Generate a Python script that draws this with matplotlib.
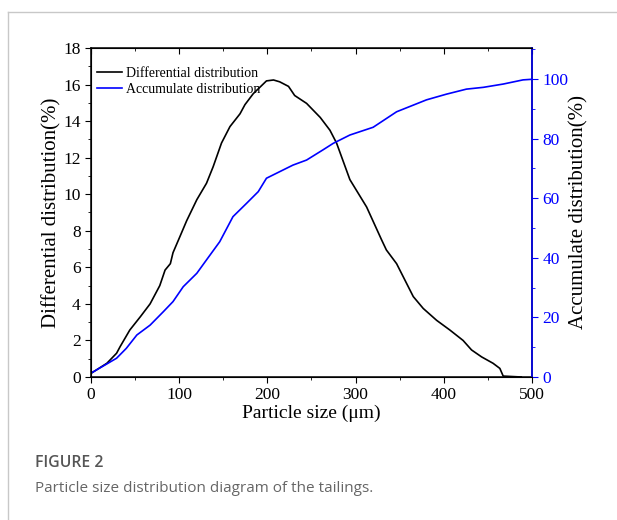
import matplotlib
matplotlib.use("Agg")
import matplotlib.pyplot as plt
from matplotlib.lines import Line2D
from matplotlib.ticker import MultipleLocator

# differential distribution (%)
diff_x = [0, 18, 29, 33, 44, 56, 67, 78, 84, 90, 93, 101, 108.5, 120, 131, 138.5,
          148, 157.6, 169, 174.6, 184, 199, 207, 214, 224, 231, 244.5, 260, 271,
          278.5, 293.6, 312.6, 329.6, 335, 346.6, 365.5, 376.8, 392, 407, 422,
          431.6, 443, 456, 463.7, 467.5, 488]
diff_y = [0.2, 0.75, 1.3, 1.66, 2.57, 3.3, 4.0, 5.0, 5.85, 6.2, 6.8, 7.7, 8.55, 9.7,
          10.6, 11.5, 12.8, 13.7, 14.4, 14.9, 15.5, 16.2, 16.25, 16.15, 15.9, 15.4,
          14.97, 14.2, 13.5, 12.8, 10.8, 9.3, 7.5, 6.95, 6.2, 4.4, 3.75, 3.1, 2.57,
          2.0, 1.48, 1.1, 0.75, 0.47, 0.05, 0.0]

# accumulate distribution (%)
acc_x = [0, 18, 29, 40, 52, 67, 82, 93, 104.6, 120, 131, 146, 161, 176.5, 189.7,
         199, 214, 229, 244.5, 263, 274.7, 293.6, 320, 346.6, 380.5, 403, 425.8,
         445, 467.5, 490, 500]
acc_y = [1.3, 4.4, 6.3, 9.6, 14.1, 17.4, 21.9, 25.3, 30.3, 34.8, 39.3, 45.4, 53.8,
         58.3, 62.2, 66.7, 68.9, 71.1, 72.8, 76.2, 78.4, 81.2, 83.8, 89.0, 93.0,
         94.9, 96.6, 97.2, 98.3, 99.7, 99.9]

plt.rcParams['font.family'] = ['Liberation Serif', 'DejaVu Serif']

fig = plt.figure(figsize=(6.17, 5.2), dpi=100)
ax = fig.add_axes([0.1475, 0.275, 0.7145, 0.6327])

ax.plot(diff_x, diff_y, color='black', lw=1.2)
ax.set_xlim(0, 500)
ax.set_ylim(0, 18)
ax.xaxis.set_major_locator(MultipleLocator(100))
ax.xaxis.set_minor_locator(MultipleLocator(50))
ax.yaxis.set_major_locator(MultipleLocator(2))
ax.yaxis.set_minor_locator(MultipleLocator(1))
ax.tick_params(axis='both', which='both', direction='out', labelsize=12.5)
ax.tick_params(which='major', length=4)
ax.tick_params(which='minor', length=2.5)
ax.tick_params(axis='x', which='both', top=True, labeltop=False)
ax.set_xlabel("Particle size (μm)", fontsize=14, labelpad=1)
ax.set_ylabel("Differential distribution(%)", fontsize=15, labelpad=1)
for s in ax.spines.values():
    s.set_linewidth(1.1)

# top ticks point inward
for t in ax.xaxis.get_major_ticks() + ax.xaxis.get_minor_ticks():
    t.tick2line.set_marker(3)

ax2 = ax.twinx()
ax2.plot(acc_x, acc_y, color='blue', lw=1.2)
ax2.set_ylim(0, 110.4)
ax2.yaxis.set_major_locator(MultipleLocator(20))
ax2.yaxis.set_minor_locator(MultipleLocator(10))
ax2.tick_params(axis='y', which='both', direction='out', colors='blue', labelsize=12.5)
ax2.tick_params(which='major', length=4)
ax2.tick_params(which='minor', length=2.5)
ax2.spines['right'].set_color('blue')
ax2.spines['right'].set_linewidth(1.1)
ax2.set_ylabel("Accumulate distribution(%)", fontsize=15, color='black', labelpad=1)

handles = [Line2D([], [], color='black', lw=1.2), Line2D([], [], color='blue', lw=1.2)]
ax.legend(handles, ["Differential distribution", "Accumulate distribution"],
          loc='upper left', frameon=False, fontsize=10, handlelength=1.8,
          handletextpad=0.3, labelspacing=0.25, borderaxespad=0.0,
          bbox_to_anchor=(0.0, 0.96))

# page border like the source figure panel
fig.add_artist(Line2D([8 / 617, 1], [1 - 12 / 520, 1 - 12 / 520], color='#c8c8c8', lw=1))
fig.add_artist(Line2D([8 / 617, 8 / 617], [0, 1 - 12 / 520], color='#c8c8c8', lw=1))

fig.text(35 / 617, 1 - 463 / 520, "FIGURE 2", fontsize=11.3, color='#555555',
         family=['Open Sans', 'DejaVu Sans'], weight='semibold', va='center')
fig.text(35 / 617, 1 - 489 / 520, "Particle size distribution diagram of the tailings.",
         fontsize=11, color='#666666', family=['Open Sans', 'DejaVu Sans'], va='center')

fig.savefig("out.png", dpi=100)
